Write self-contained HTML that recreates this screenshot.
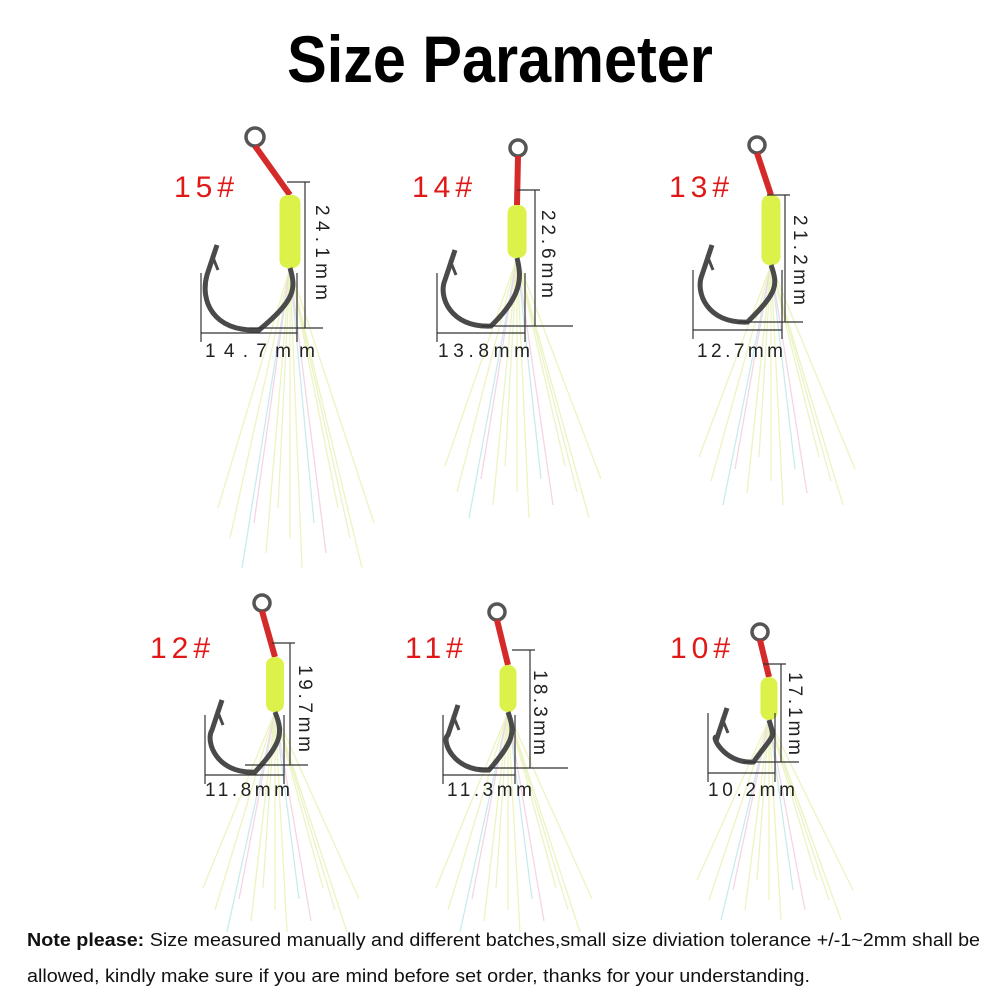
<!DOCTYPE html>
<html><head><meta charset="utf-8"><style>
html,body{margin:0;padding:0;background:#fff;width:1000px;height:1000px;overflow:hidden}
svg{display:block}
.t{font-family:"Liberation Sans",sans-serif;font-size:19px;fill:#222}
.lb{font-family:"Liberation Sans",sans-serif;font-size:30px;fill:#e01818;letter-spacing:5px}
</style></head><body>
<svg id="s" width="1000" height="1000" viewBox="0 0 1000 1000">
<text x="500" y="82" text-anchor="middle" font-family="Liberation Sans,sans-serif" font-weight="bold" font-size="66" fill="#000" transform="translate(500 0) scale(0.9 1) translate(-500 0)">Size Parameter</text>
<g id="hooks"></g>
<text class="lb" x="174" y="197">15#</text>
<text class="lb" x="412" y="197">14#</text>
<text class="lb" x="669" y="197">13#</text>
<text class="lb" x="150" y="658">12#</text>
<text class="lb" x="405" y="658">11#</text>
<text class="lb" x="670" y="658">10#</text>
<text class="t" transform="translate(316 205) rotate(90)" textLength="95" lengthAdjust="spacing">24.1mm</text>
<text class="t" transform="translate(542 210) rotate(90)" textLength="88" lengthAdjust="spacing">22.6mm</text>
<text class="t" transform="translate(794 215) rotate(90)" textLength="90" lengthAdjust="spacing">21.2mm</text>
<text class="t" transform="translate(299 665) rotate(90)" textLength="87" lengthAdjust="spacing">19.7mm</text>
<text class="t" transform="translate(534 670) rotate(90)" textLength="85" lengthAdjust="spacing">18.3mm</text>
<text class="t" transform="translate(789 672) rotate(90)" textLength="83" lengthAdjust="spacing">17.1mm</text>
<text class="t" x="205" y="357" textLength="110" lengthAdjust="spacing">14.7mm</text>
<text class="t" x="438" y="357" textLength="92" lengthAdjust="spacing">13.8mm</text>
<text class="t" x="697" y="357" textLength="86" lengthAdjust="spacing">12.7mm</text>
<text class="t" x="205" y="796" textLength="85" lengthAdjust="spacing">11.8mm</text>
<text class="t" x="447" y="796" textLength="85" lengthAdjust="spacing">11.3mm</text>
<text class="t" x="708" y="796" textLength="87" lengthAdjust="spacing">10.2mm</text>
<text x="27" y="946" font-family="Liberation Sans,sans-serif" font-size="18.5" fill="#111" textLength="953" lengthAdjust="spacingAndGlyphs"><tspan font-weight="bold">Note please:</tspan> Size measured manually and different batches,small size diviation tolerance +/-1~2mm shall be</text>
<text x="27" y="982" font-family="Liberation Sans,sans-serif" font-size="18.5" fill="#111" textLength="783" lengthAdjust="spacingAndGlyphs">allowed, kindly make sure if you are mind before set order, thanks for your understanding.</text>
</svg>
<script>
var H=[
 {rx:255,ry:137,r:9,wx:290,wt:195,wb:268,ww:21,L:202,B:330,R:296,P:245,vx:305,vt:182,vb:328,hy:333,hl:201,hr:297,tl:300},
 {rx:518,ry:148,r:8,wx:517,wt:205,wb:258,ww:19,L:440,B:326,R:522,P:250,vx:535,vt:190,vb:326,hy:333,hl:437,hr:525,tl:260},
 {rx:757,ry:145,r:8,wx:771,wt:195,wb:265,ww:19,L:697,B:322,R:778,P:245,vx:785,vt:195,vb:322,hy:330,hl:693,hr:782,tl:240},
 {rx:262,ry:603,r:8,wx:275,wt:657,wb:712,ww:18,L:207,B:772,R:283,P:700,vx:290,vt:643,vb:765,hy:775,hl:205,hr:284,tl:220},
 {rx:497,ry:612,r:8,wx:508,wt:665,wb:712,ww:17,L:443,B:770,R:515,P:705,vx:530,vt:650,vb:768,hy:775,hl:443,hr:515,tl:220},
 {rx:760,ry:632,r:8,wx:769,wt:677,wb:720,ww:17,L:712,B:762,R:775,P:708,vx:781,vt:664,vb:762,hy:773,hl:708,hr:775,tl:200}
];
var o='';
H.forEach(function(h){
 var cols=['#eef3c0','#eef3c0','#c8ecec','#f4d6e4','#eef3c0','#e8f4c8'];
 for(var i=0;i<14;i++){var dx=(i-6)*12, c=cols[i%6];
  o+='<path d="M'+h.wx+' '+h.wb+' L'+(h.wx+dx)+' '+(h.wb+h.tl*(0.8+0.2*((i*7)%5)/4))+'" stroke="'+c+'" stroke-width="1.3" fill="none"/>';}
 o+='<circle cx="'+h.rx+'" cy="'+h.ry+'" r="'+h.r+'" fill="none" stroke="#555" stroke-width="3.5"/>';
 o+='<path d="M'+h.rx+' '+(h.ry+h.r)+' L'+h.wx+' '+h.wt+'" stroke="#d42a2a" stroke-width="6" fill="none"/>';
 o+='<rect x="'+(h.wx-h.ww/2)+'" y="'+h.wt+'" width="'+h.ww+'" height="'+(h.wb-h.wt)+'" rx="8" fill="#dcf24a"/>';
 var mx=(h.L+h.R)/2;
 o+='<path d="M'+h.wx+' '+h.wb+' C'+h.R+' '+(h.wb+20)+' '+h.R+' '+(h.B-30)+' '+(mx+10)+' '+h.B+' C'+(h.L+10)+' '+(h.B+2)+' '+(h.L-2)+' '+(h.B-30)+' '+(h.L+5)+' '+(h.P+30)+' L'+(h.L+15)+' '+h.P+'" stroke="#4a4a4a" stroke-width="5" fill="none"/>';
 o+='<path d="M'+(h.L+10)+' '+(h.P+10)+' L'+(h.L+16)+' '+(h.P+25)+'" stroke="#4a4a4a" stroke-width="3"/>';
 o+='<g stroke="#333" stroke-width="1.2">';
 o+='<line x1="'+h.vx+'" y1="'+h.vt+'" x2="'+h.vx+'" y2="'+h.vb+'"/>';
 o+='<line x1="'+(h.vx-18)+'" y1="'+h.vt+'" x2="'+(h.vx+5)+'" y2="'+h.vt+'"/>';
 o+='<line x1="'+(mx)+'" y1="'+h.vb+'" x2="'+(h.vx+(h.vx>500&&h.vx<600?38:18))+'" y2="'+h.vb+'"/>';
 o+='<line x1="'+h.hl+'" y1="'+h.hy+'" x2="'+h.hr+'" y2="'+h.hy+'"/>';
 o+='<line x1="'+h.hl+'" y1="'+(h.hy-60)+'" x2="'+h.hl+'" y2="'+(h.hy+9)+'"/>';
 o+='<line x1="'+h.hr+'" y1="'+(h.hy-60)+'" x2="'+h.hr+'" y2="'+(h.hy+9)+'"/>';
 o+='</g>';
});
document.getElementById('hooks').innerHTML=o;
</script>
</body></html>
